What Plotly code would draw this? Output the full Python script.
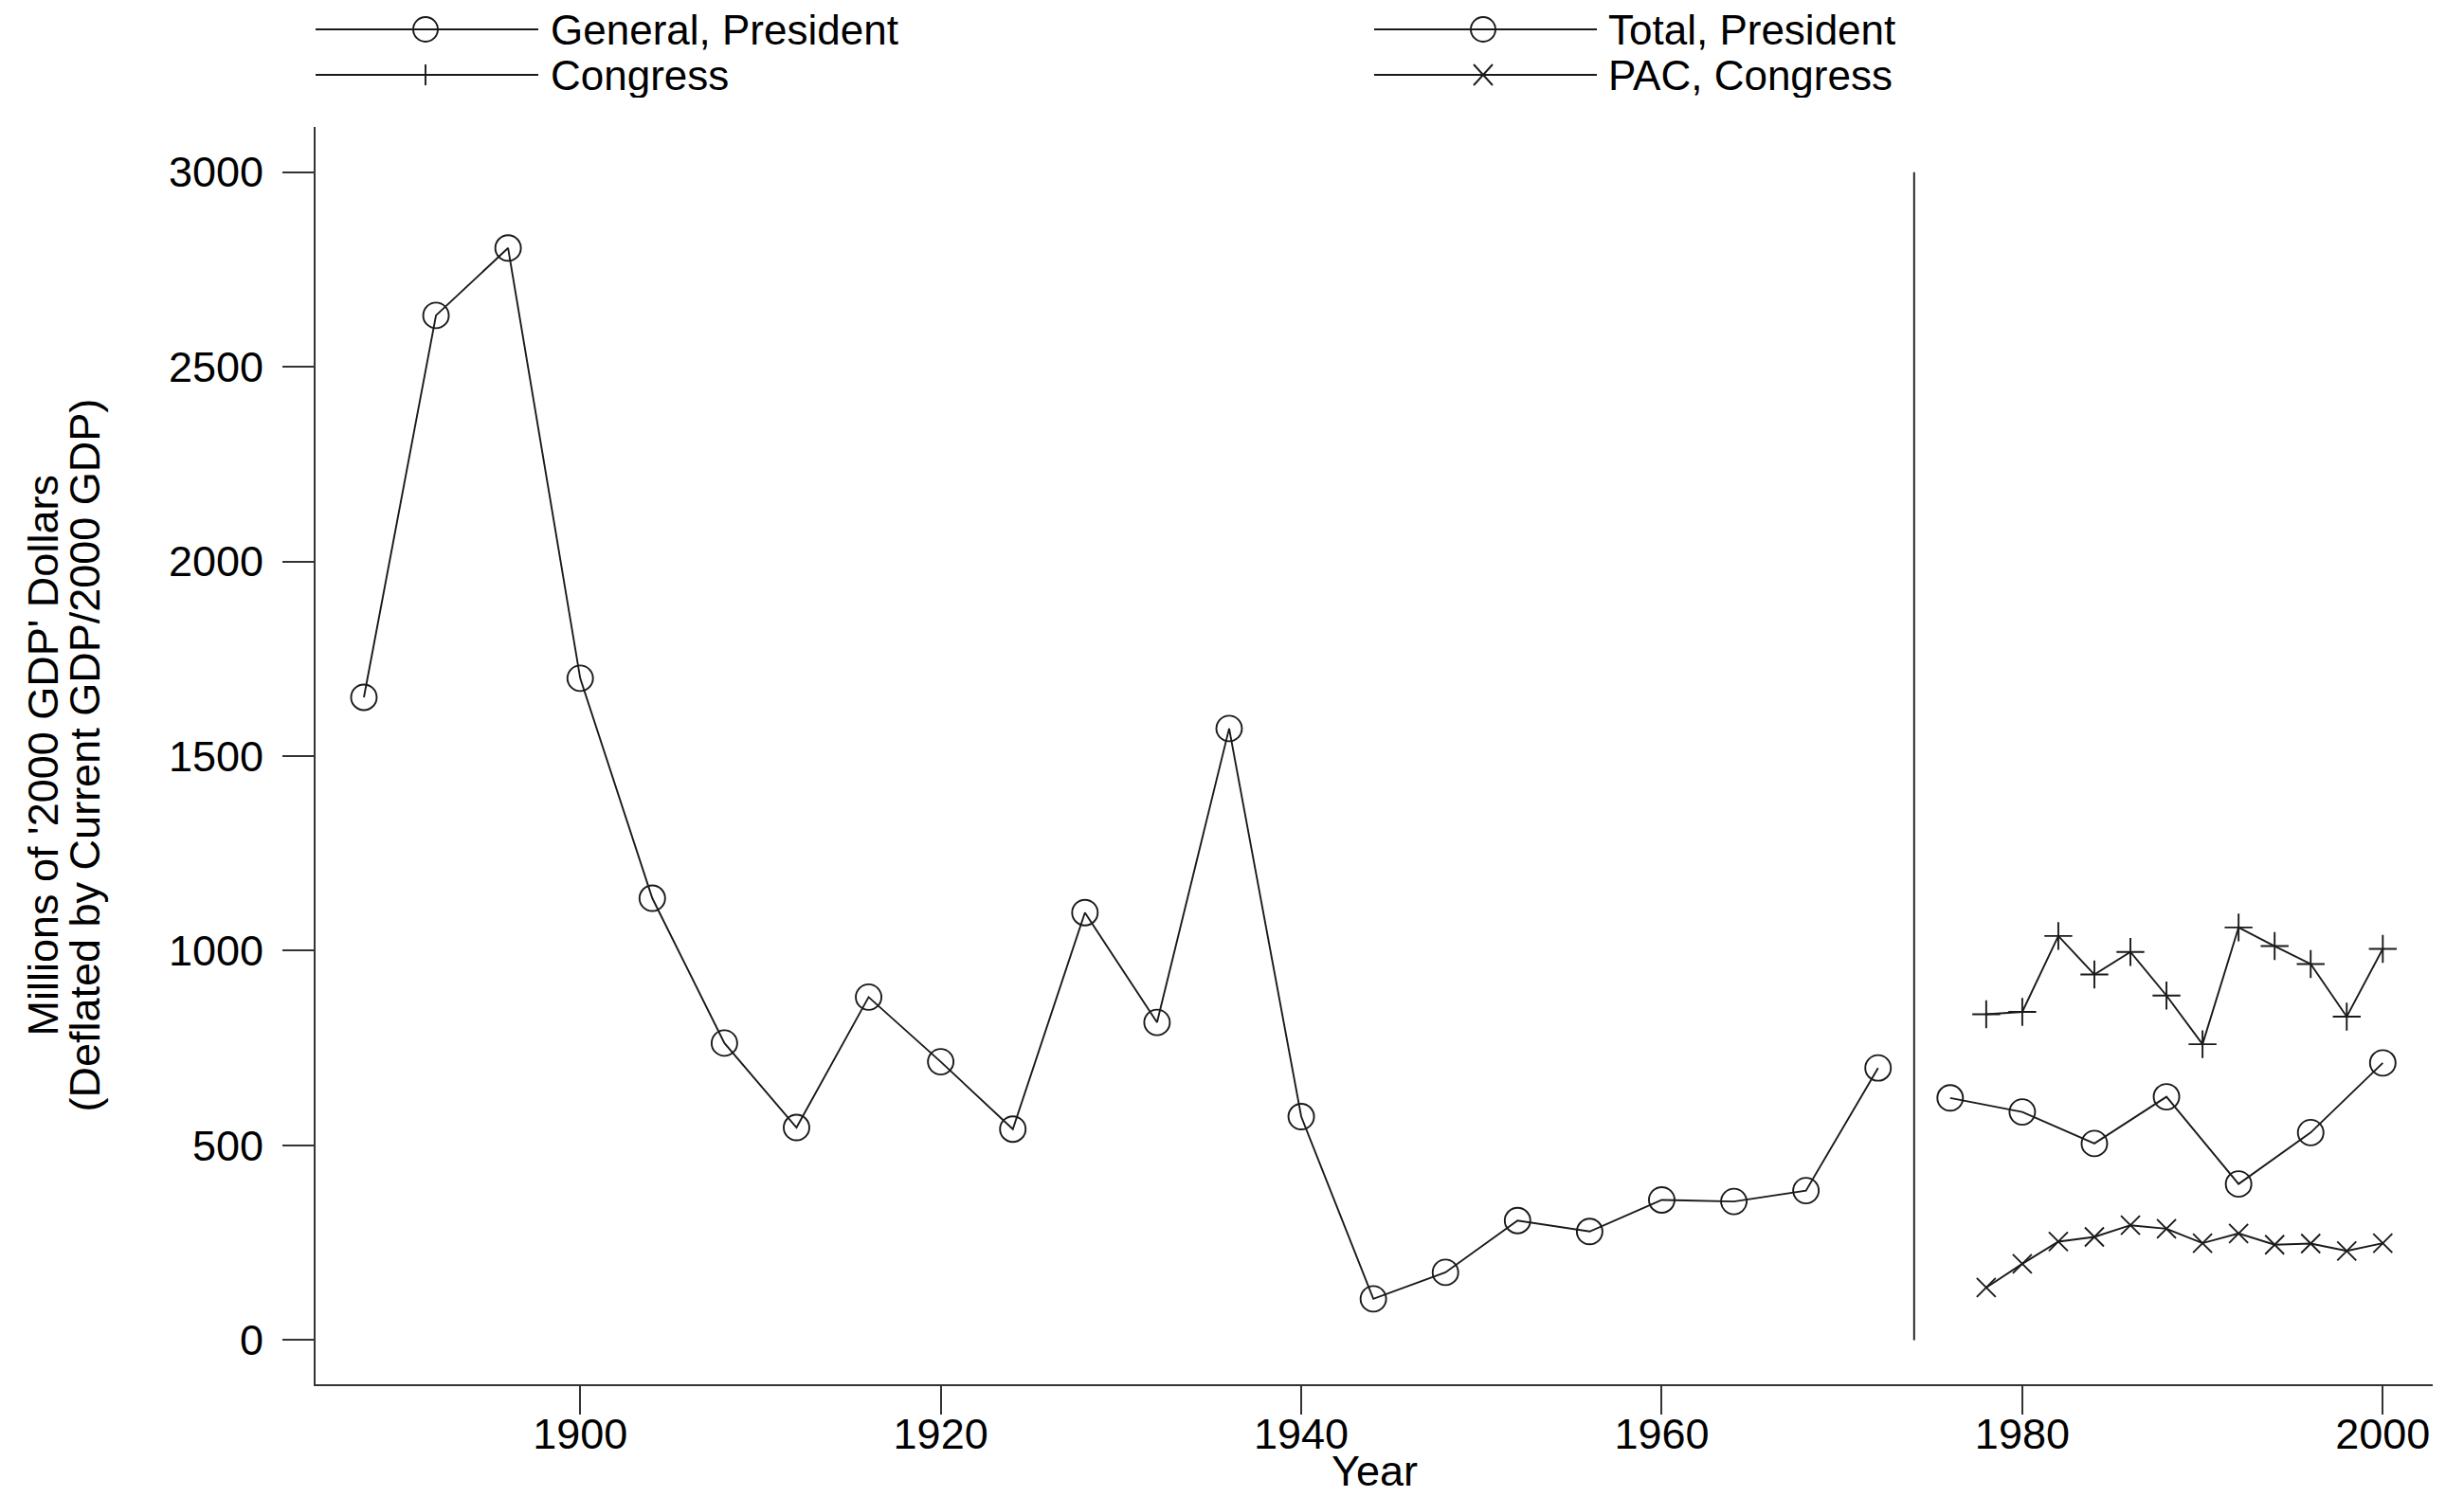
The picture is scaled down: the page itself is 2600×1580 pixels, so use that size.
import plotly.graph_objects as go

# ---- data ----
general_years = [1888, 1892, 1896, 1900, 1904, 1908, 1912, 1916, 1920, 1924, 1928,
                 1932, 1936, 1940, 1944, 1948, 1952, 1956, 1960, 1964, 1968, 1972]
general_pres = [1651, 2632, 2805, 1700, 1135, 763, 546, 881, 715, 542, 1098,
                816, 1571, 574, 106, 174, 307, 279, 360, 356, 384, 699]

total_years = [1976, 1980, 1984, 1988, 1992, 1996, 2000]
total_pres = [622, 586, 505, 625, 401, 533, 712]

congress_years = [1978, 1980, 1982, 1984, 1986, 1988, 1990, 1992, 1994, 1996, 1998, 2000]
congress = [837, 843, 1038, 939, 997, 885, 760, 1060, 1012, 966, 831, 1005]

pac_years = [1978, 1980, 1982, 1984, 1986, 1988, 1990, 1992, 1994, 1996, 1998, 2000]
pac_congress = [135, 196, 253, 265, 295, 286, 249, 274, 245, 248, 229, 249]

divider_year = [1974, 1974]
divider_vals = [0, 3000]

x_ticks = [1900, 1920, 1940, 1960, 1980, 2000]
y_ticks = [0, 500, 1000, 1500, 2000, 2500, 3000]

# ---- style ----
FONT = "Liberation Sans, Arial, Helvetica, sans-serif"
FS = 45
LC = "#1a1a1a"
LW = 1.9

fig = go.Figure()

def add_series(x, y, symbol, size, name):
    fig.add_trace(go.Scatter(
        x=x, y=y, mode="lines+markers", name=name, showlegend=False,
        line=dict(color=LC, width=LW),
        marker=dict(symbol=symbol, size=size, color=LC,
                    line=dict(color=LC, width=LW)),
    ))

add_series(general_years, general_pres, "circle-open", 27, "General, President")
add_series(total_years, total_pres, "circle-open", 27, "Total, President")
add_series(congress_years, congress, "cross-thin-open", 21, "Congress")
add_series(pac_years, pac_congress, "x-thin-open", 20, "PAC, Congress")

fig.add_trace(go.Scatter(x=divider_year, y=divider_vals, mode="lines", showlegend=False,
                         line=dict(color=LC, width=LW), hoverinfo="skip"))

# ---- geometry (page has an 8px body margin) ----
OFF = 8
FW, FH = 2600 - OFF, 1580 - OFF
L, R, T, B = 333 - OFF, 33, 134 - OFF, 119
W, H = FW - L - R, FH - T - B

def px(xp):
    return (xp - OFF - L) / W

def py(yp):
    return (FH - B - (yp - OFF)) / H

shapes = []
annotations = []
LFS = 44
legend_items = [
    ("General, President", "circle", 333, 568, 449, 580, 31),
    ("Congress", "cross", 333, 568, 449, 580, 79),
    ("Total, President", "circle", 1450, 1685, 1565, 1696, 31),
    ("PAC, Congress", "x", 1450, 1685, 1565, 1696, 79),
]
for label, sym, x0, x1, xm, xt, yy in legend_items:
    shapes.append(dict(type="line", xref="paper", yref="paper",
                       x0=px(x0), x1=px(x1), y0=py(yy), y1=py(yy),
                       line=dict(color=LC, width=LW)))
    if sym == "circle":
        shapes.append(dict(type="circle", xref="paper", yref="paper",
                           xsizemode="pixel", ysizemode="pixel",
                           xanchor=px(xm), yanchor=py(yy),
                           x0=-13, x1=13, y0=-13, y1=13,
                           fillcolor="rgba(0,0,0,0)", line=dict(color=LC, width=LW)))
    elif sym == "cross":
        shapes.append(dict(type="path", xref="paper", yref="paper",
                           xsizemode="pixel", ysizemode="pixel",
                           xanchor=px(xm), yanchor=py(yy),
                           path="M-10,0 L10,0 M0,-11 L0,11",
                           line=dict(color=LC, width=LW)))
    else:
        shapes.append(dict(type="path", xref="paper", yref="paper",
                           xsizemode="pixel", ysizemode="pixel",
                           xanchor=px(xm), yanchor=py(yy),
                           path="M-10,-11 L10,11 M-10,11 L10,-11",
                           line=dict(color=LC, width=LW)))
    annotations.append(dict(text=label, xref="paper", yref="paper",
                            x=px(xt), y=py(yy), xanchor="left", yanchor="middle",
                            height=48, borderpad=0,
                            showarrow=False, font=dict(family=FONT, size=LFS, color="black")))

# axis titles
annotations.append(dict(text="Year", xref="paper", yref="paper", x=0.5, y=py(1552),
                        xanchor="center", yanchor="middle", height=48, borderpad=0,
                        showarrow=False,
                        font=dict(family=FONT, size=FS, color="black")))
annotations.append(dict(text="Millions of '2000 GDP' Dollars", xref="paper", yref="paper",
                        x=px(45), y=0.5, xanchor="center", yanchor="middle", textangle=-90,
                        showarrow=False, font=dict(family=FONT, size=FS, color="black")))
annotations.append(dict(text="(Deflated by Current GDP/2000 GDP)", xref="paper", yref="paper",
                        x=px(89), y=0.5, xanchor="center", yanchor="middle", textangle=-90,
                        showarrow=False, font=dict(family=FONT, size=FS, color="black")))

fig.update_layout(
    width=FW, height=FH,
    margin=dict(l=L, r=R, t=T, b=B, pad=0),
    paper_bgcolor="white", plot_bgcolor="white",
    showlegend=False,
    shapes=shapes, annotations=annotations,
    font=dict(family=FONT, size=FS, color="black"),
    xaxis=dict(range=[1885.32, 2002.77], tickvals=x_ticks, ticktext=[str(v) for v in x_ticks],
               showgrid=False, zeroline=False, showline=True, linecolor="#333333", linewidth=2,
               ticks="outside", ticklen=30, tickwidth=1.5, tickcolor="#333333",
               ticklabelstandoff=-18,
               tickfont=dict(family=FONT, size=FS, color="black")),
    yaxis=dict(range=[-113.4, 3116], tickvals=y_ticks, ticktext=[str(v) for v in y_ticks],
               showgrid=False, zeroline=False, showline=True, linecolor="#333333", linewidth=2,
               ticks="outside", ticklen=33, tickwidth=1.5, tickcolor="#333333",
               ticklabelstandoff=11,
               tickfont=dict(family=FONT, size=FS, color="black")),
)

fig.write_html("out.html")
